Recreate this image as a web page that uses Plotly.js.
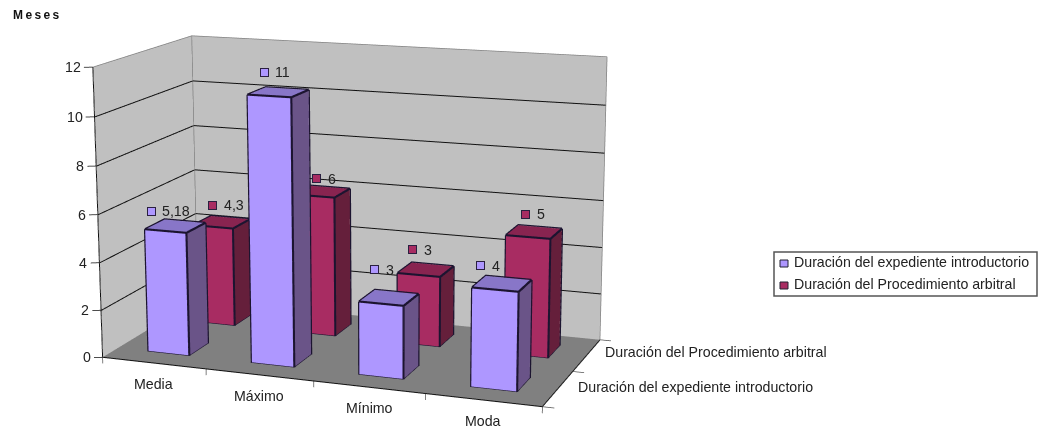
<!DOCTYPE html>
<html><head><meta charset="utf-8"><script src="https://cdn.plot.ly/plotly-3.0.1.min.js"></script>
<style>.annotation-text[data-unformatted="Meses"]{letter-spacing:2.4px}</style></head>
<body style="margin:0;overflow:hidden;background:#fff"><div style="position:absolute;left:0;top:0;width:1039px;height:431px;overflow:hidden"><div id="g" style="position:absolute"></div></div>
<script>
const categories=['Media','Máximo','Mínimo','Moda'];
const seriesNames=['Duración del expediente introductorio','Duración del Procedimiento arbitral'];
const expediente=[5.18,11,3,4];
const procedimiento=[4.3,6,3,5];
const valueTexts=[['5,18','11','3','4'],['4,3','6','3','5']];
const zTicks=[0,2,4,6,8,10,12];

// Oversized scene frame: a long focal length keeps the verticals close to parallel.
const W=1370,H=1657,OX=-331,OY=-621;
const el=document.getElementById('g');el.style.left=OX+'px';el.style.top=OY+'px';
const px=x=>(x-OX)/W, py=y=>1-(y-OY)/H;

const FRONT=['#AE97FF','#8876C8','#6A5488'],BACK=['#A82C62','#882450','#651F3B'];
const RX=[-.4,4.4],RY=[-.2,2.2],RZ=[-1,13];
const AS={x:.6182*4.8/4,y:.308*2.4/2,z:.3994*14/12};
const EYE=[.923,-2.4801,.613],UP=[-.167,.4818,2.9307];
// Pixel offset of each value label from the centre of its bar's top face.
const labelShift=[[[-24,15],[-14,20],[-14,28],[-21,18]],[[-9,17],[-5,13],[-13,20],[-8,18]]];

function barMesh(values,s,cols,name){
 const x=[],y=[],z=[],i=[],j=[],k=[],fc=[];
 const lx=[],ly=[],lz=[];
 const line=(pts)=>{pts.forEach(p=>{lx.push(p[0]);ly.push(p[1]);lz.push(p[2])});lx.push(null);ly.push(null);lz.push(null)};
 // Outlines sit just proud of each face so the depth test keeps them visible.
 const dx=.006,dy=.006,dz=.03;
 values.forEach((v,c)=>{
  const a=c+.3,b=c+.7,f=s+.3,g=s+.7;
  const quad=(q,col,off)=>{const n=x.length;q.forEach(p=>{x.push(p[0]);y.push(p[1]);z.push(p[2])});i.push(n,n);j.push(n+1,n+2);k.push(n+2,n+3);fc.push(col,col);
   line([...q,q[0]].map(p=>[p[0]+off[0],p[1]+off[1],p[2]+off[2]]))};
  quad([[a,f,0],[b,f,0],[b,f,v],[a,f,v]],cols[0],[0,-dy,0]);
  quad([[a,f,v],[b,f,v],[b,g,v],[a,g,v]],cols[1],[0,0,dz]);
  quad([[b,f,0],[b,g,0],[b,g,v],[b,f,v]],cols[2],[dx,0,0]);
 });
 return [{type:'mesh3d',x,y,z,i,j,k,facecolor:fc,flatshading:true,lighting:{ambient:1,diffuse:0,specular:0,roughness:1,fresnel:0},name,showlegend:false,hoverinfo:'skip'},
  {type:'scatter3d',mode:'lines',x:lx,y:ly,z:lz,line:{color:'#1c1430',width:2.4},showlegend:false,hoverinfo:'skip'}];
}
const nC=categories.length,nS=seriesNames.length,zTop=zTicks[zTicks.length-1];
function plane(q,color){return {type:'mesh3d',x:q.map(p=>p[0]),y:q.map(p=>p[1]),z:q.map(p=>p[2]),i:[0,0],j:[1,2],k:[2,3],color,flatshading:true,lighting:{ambient:1,diffuse:0,specular:0,roughness:1,fresnel:0},showlegend:false,hoverinfo:'skip'}}
function lines(segs,color,width){const x=[],y=[],z=[];segs.forEach(s=>{s.forEach(p=>{x.push(p[0]);y.push(p[1]);z.push(p[2])});x.push(null);y.push(null);z.push(null)});
 return {type:'scatter3d',mode:'lines',x,y,z,line:{color,width},showlegend:false,hoverinfo:'skip'}}
const e=.004;
const traces=[
 plane([[0,nS,0],[nC,nS,0],[nC,nS,zTop],[0,nS,zTop]],'#C0C0C0'),
 plane([[0,0,0],[0,nS,0],[0,nS,zTop],[0,0,zTop]],'#C0C0C0'),
 plane([[0,0,0],[nC,0,0],[nC,nS,0],[0,nS,0]],'#808080'),
 lines(zTicks.filter(t=>t>0&&t<zTop).flatMap(t=>[[[e,0,t],[e,nS-e,t],[nC,nS-e,t]]]),'#111',2),
 lines([[[0,0,zTop],[e,nS-e,zTop],[nC,nS-e,zTop],[nC,nS-e,0]],[[e,nS-e,0],[e,nS-e,zTop]]],'#808080',1.5),
 lines([[[0,0,0],[0,0,zTop]],[[0,0,0],[nC,0,0]],[[nC,0,0],[nC,nS,0]]],'#111',2),
 lines(zTicks.map(t=>[[0,0,t],[-.068,-.033,t]]),'#111',1.5),
 lines(categories.map((c,i)=>[[i+1,0,0],[i+1,0,-.26]]).concat([[[0,0,0],[0,0,-.26]]]),'#555',1.5),
 lines([0,1,2].map(s=>[[nC,s,0],[nC+.1,s,0]]),'#555',1.5),
 ...barMesh(procedimiento,1,BACK,seriesNames[1]),
 ...barMesh(expediente,0,FRONT,seriesNames[0]),
];

const fnt={family:'Liberation Sans, Arial, sans-serif',size:14.2,color:'#222'};
const ann=[];
[expediente,procedimiento].forEach((vals,s)=>{vals.forEach((v,c)=>{
 const [dx,dy]=labelShift[s][c];
 const col=(s?BACK:FRONT)[0];
 ann.push({x:c+.5,y:s+.5,z:v,xshift:dx,yshift:dy,text:' ',showarrow:false,width:7,height:7,bgcolor:col,bordercolor:'#2a2040',borderwidth:1,borderpad:0,font:{size:4}});
 ann.push({x:c+.5,y:s+.5,z:v,xshift:dx+9,yshift:dy,xanchor:'left',text:valueTexts[s][c],showarrow:false,font:fnt});
})});
zTicks.forEach(t=>ann.push({x:0,y:0,z:t,xshift:-10,xanchor:'right',text:String(t),showarrow:false,font:fnt}));
categories.forEach((c,i)=>ann.push({x:i+.5,y:0,z:0,yshift:-21,text:c,showarrow:false,font:fnt}));
ann.push({x:nC,y:1.5,z:0,xshift:16,yshift:3,xanchor:'left',text:seriesNames[1],showarrow:false,font:fnt});
ann.push({x:nC,y:.5,z:0,xshift:18,yshift:2,xanchor:'left',text:seriesNames[0],showarrow:false,font:fnt});

const paperAnn=[
 {xref:'paper',yref:'paper',x:px(11),y:py(15),xanchor:'left',text:'Meses',showarrow:false,font:{family:'Liberation Sans, Arial, sans-serif',size:12,color:'#111',weight:700}},
 {xref:'paper',yref:'paper',x:px(792),y:py(262),xanchor:'left',text:seriesNames[0],showarrow:false,font:fnt},
 {xref:'paper',yref:'paper',x:px(792),y:py(284),xanchor:'left',text:seriesNames[1],showarrow:false,font:fnt},
];
const rect=(x0,y0,x1,y1,fill,lc,w)=>({type:'rect',xref:'paper',yref:'paper',x0:px(x0),x1:px(x1),y0:py(y0),y1:py(y1),fillcolor:fill,line:{color:lc,width:w}});
const shapes=[rect(774,252,1037,296,'#fff','#555',1.5),rect(780,260,788,267,FRONT[0],'#223',1),rect(780,282,788,289,BACK[0],'#223',1)];

Plotly.newPlot('g',traces,{width:W,height:H,margin:{l:0,r:0,t:0,b:0},paper_bgcolor:'#fff',showlegend:false,hovermode:false,dragmode:false,
 annotations:paperAnn,shapes,
 scene:{domain:{x:[0,1],y:[0,1]},aspectmode:'manual',aspectratio:AS,dragmode:false,hovermode:false,
  xaxis:{visible:false,range:RX},yaxis:{visible:false,range:RY},zaxis:{visible:false,range:RZ},
  camera:{projection:{type:'perspective'},eye:{x:EYE[0],y:EYE[1],z:EYE[2]},center:{x:0,y:0,z:0},up:{x:UP[0],y:UP[1],z:UP[2]}},
  annotations:ann}},{displayModeBar:false});
</script></body></html>
